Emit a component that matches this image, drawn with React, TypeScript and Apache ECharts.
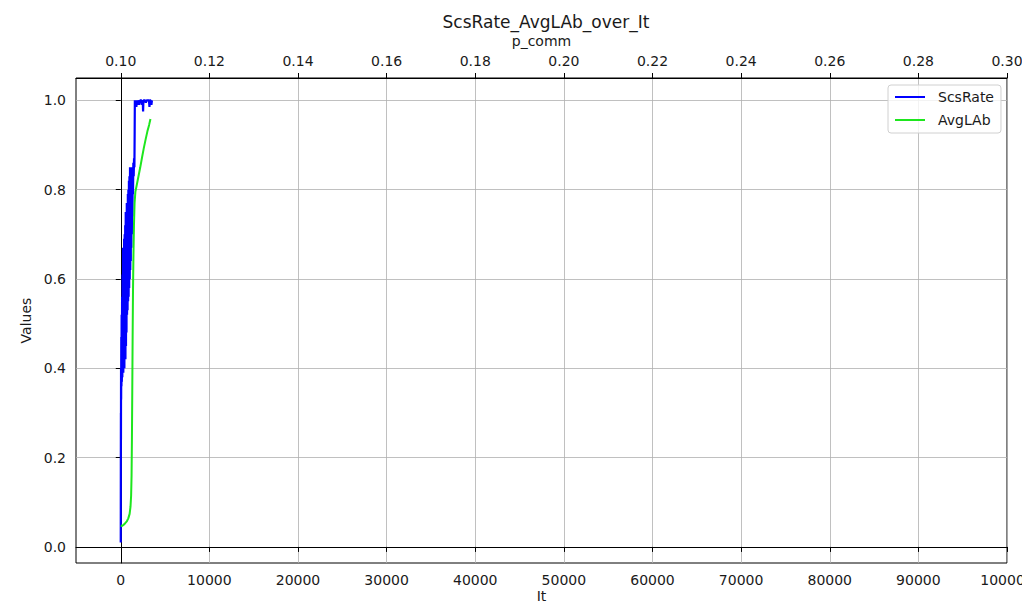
import React, { useEffect, useRef } from "react";
import * as echarts from "echarts";

// Tick labels
const itTicks = [0, 10000, 20000, 30000, 40000, 50000, 60000, 70000, 80000, 90000, 100000];
const pcommTicks = [0.1, 0.12, 0.14, 0.16, 0.18, 0.2, 0.22, 0.24, 0.26, 0.28, 0.3];
const valueTicks = [0, 0.2, 0.4, 0.6, 0.8, 1.0];

// ScsRate series (iteration, value)
const scsIt = [
  0, 8, 16, 24, 32, 45, 60, 80, 100, 125, 150, 180, 205, 230, 260, 290, 320, 350, 380, 410,
  440, 470, 500, 530, 560, 590, 620, 650, 680, 710, 740, 770, 800, 830, 860, 890, 920, 950, 980, 1015,
  1045, 1075, 1105, 1135, 1165, 1200, 1230, 1260, 1290, 1320, 1350, 1380, 1420, 1460, 1500, 1540, 1570, 1590,
  1650, 1700, 1760, 1820, 1880, 1950, 2020, 2100, 2180, 2260, 2340, 2420, 2480, 2520, 2560, 2650, 2740, 2830,
  2920, 3010, 3100, 3180, 3240, 3290, 3380, 3460, 3520, 3580,
];
const scsRate = [
  0.01, 0.18, 0.3, 0.24, 0.4, 0.33, 0.47, 0.36, 0.52, 0.37, 0.56, 0.38, 0.61, 0.4, 0.67, 0.39, 0.66, 0.41, 0.69, 0.4,
  0.7, 0.43, 0.72, 0.42, 0.75, 0.45, 0.74, 0.48, 0.77, 0.52, 0.76, 0.53, 0.79, 0.55, 0.8, 0.56, 0.82, 0.58, 0.83, 0.6,
  0.85, 0.62, 0.84, 0.64, 0.85, 0.67, 0.85, 0.7, 0.84, 0.74, 0.85, 0.79, 0.86, 0.83, 0.87, 0.85, 0.93, 1.0,
  0.99, 1.0, 0.985, 1.0, 0.99, 1.0, 1.0, 0.99, 1.0, 1.0, 1.0, 0.99, 1.0, 0.975, 1.0, 1.0, 1.0, 0.995,
  1.0, 1.0, 1.0, 1.0, 0.985, 1.0, 1.0, 0.99, 1.0, 1.0,
];

// AvgLAb series (iteration, value)
const avgIt = [
  0, 150, 300, 500, 700, 850, 1000, 1100, 1170, 1220, 1260, 1300, 1340, 1380, 1430, 1490, 1560, 1650,
  1800, 2000, 2200, 2400, 2600, 2800, 3000, 3200, 3350,
];
const avgLAb = [
  0.048, 0.047, 0.049, 0.053, 0.058, 0.064, 0.074, 0.09, 0.115, 0.16, 0.24, 0.35, 0.47, 0.57, 0.65, 0.72, 0.77, 0.795,
  0.81, 0.83, 0.85, 0.872, 0.893, 0.912, 0.93, 0.945, 0.958,
];

const FONT = "DejaVu Sans";
const TXT = "#1a1a1a";

export default function App() {
  const ref = useRef<HTMLDivElement>(null);
  useEffect(() => {
    const chart = echarts.init(ref.current!, null, { renderer: "svg" });
    const scsData = scsIt.map((x, i) => [x, scsRate[i]]);
    const avgData = avgIt.map((x, i) => [x, avgLAb[i]]);
    const tickStyle = { show: true, inside: false, length: 5, lineStyle: { color: "#000", width: 1 } };
    const labelBase = { fontFamily: FONT, fontSize: 14, color: TXT, hideOverlap: false, showMinLabel: true, showMaxLabel: true };
    chart.setOption({
      animation: false,
      backgroundColor: "#ffffff",
      title: {
        text: "ScsRate_AvgLAb_over_It",
        left: 541,
        top: 8,
        textAlign: "center",
        textStyle: { fontFamily: FONT, fontSize: 17, fontWeight: "normal", color: TXT },
      },
      grid: {
        left: 76,
        right: 15,
        top: 78,
        bottom: 42,
        outerBoundsMode: "none",
        containLabel: false,
        show: true,
        borderColor: "#000",
        borderWidth: 1,
        backgroundColor: "transparent",
      },
      legend: {
        orient: "vertical",
        left: 888,
        top: 85,
        padding: [5, 7, 6, 7],
        icon: "rect",
        itemWidth: 30,
        itemHeight: 2,
        itemGap: 9,
        backgroundColor: "rgba(255,255,255,0.8)",
        borderColor: "#d0d0d0",
        borderWidth: 1,
        borderRadius: 3,
        textStyle: { fontFamily: FONT, fontSize: 14, color: TXT, padding: [0, 0, 0, 8], lineHeight: 14 },
        data: ["ScsRate", "AvgLAb"],
      },
      xAxis: [
        {
          type: "value",
          position: "bottom",
          min: -5050,
          max: 100000,
          name: "It",
          nameLocation: "middle",
          nameMoveOverlap: false,
          nameGap: 26,
          nameTextStyle: { fontFamily: FONT, fontSize: 14, color: TXT },
          axisLine: { show: true, lineStyle: { color: "#000", width: 1 } },
          axisTick: { ...tickStyle, customValues: itTicks },
          axisLabel: { ...labelBase, margin: 10, customValues: itTicks, formatter: (v: number) => String(v) },
          splitLine: { show: true, lineStyle: { color: "#b0b0b0", width: 0.8 } },
        },
        {
          type: "value",
          position: "top",
          min: 0.1 - 5050 * 2e-6,
          max: 0.3,
          name: "p_comm",
          nameLocation: "middle",
          nameGap: 30,
          nameTextStyle: { fontFamily: FONT, fontSize: 14, color: TXT },
          axisLine: { show: true, lineStyle: { color: "#000", width: 1 } },
          axisTick: { ...tickStyle, customValues: pcommTicks },
          axisLabel: { ...labelBase, margin: 10, customValues: pcommTicks, formatter: (v: number) => v.toFixed(2) },
          splitLine: { show: false },
        },
      ],
      yAxis: {
        type: "value",
        min: -0.036,
        max: 1.05,
        name: "Values",
        nameLocation: "middle",
        nameGap: 40,
        nameTextStyle: { fontFamily: FONT, fontSize: 14, color: TXT },
        axisLine: { show: true, lineStyle: { color: "#000", width: 1 } },
        axisTick: { ...tickStyle, customValues: valueTicks },
        axisLabel: { ...labelBase, margin: 10, customValues: valueTicks, formatter: (v: number) => v.toFixed(1) },
        splitLine: { show: true, lineStyle: { color: "#b0b0b0", width: 0.8 } },
      },
      series: [
        {
          name: "ScsRate",
          type: "line",
          xAxisIndex: 0,
          data: scsData,
          symbol: "none",
          lineStyle: { color: "#0000ff", width: 2.2 },
          itemStyle: { color: "#0000ff" },
        },
        {
          name: "AvgLAb",
          type: "line",
          xAxisIndex: 0,
          data: avgData,
          symbol: "none",
          lineStyle: { color: "#1ee61e", width: 2 },
          itemStyle: { color: "#1ee61e" },
        },
      ],
    });
    return () => chart.dispose();
  }, []);
  return <div ref={ref} style={{ position: "fixed", left: 0, top: 0, width: 1022, height: 605 }} />;
}
